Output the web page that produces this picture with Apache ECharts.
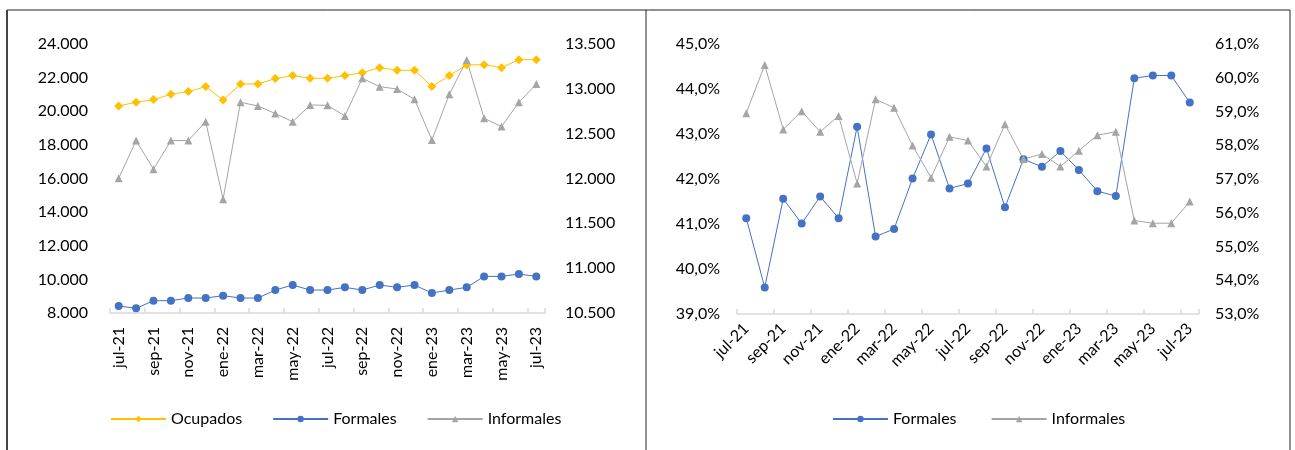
<!DOCTYPE html>
<html>
<head>
<meta charset="utf-8">
<script src="https://cdn.jsdelivr.net/npm/echarts@6/dist/echarts.min.js"></script>
<style>html,body{margin:0;padding:0;background:#fff}#c{width:1295px;height:450px}</style>
</head>
<body>
<div id="c"></div>
<script>
const months = ['jul-21','ago-21','sep-21','oct-21','nov-21','dic-21','ene-22','feb-22','mar-22','abr-22','may-22','jun-22','jul-22','ago-22','sep-22','oct-22','nov-22','dic-22','ene-23','feb-23','mar-23','abr-23','may-23','jun-23','jul-23'];
const ocupados = [20317,20535,20693,21010,21168,21465,20673,21624,21624,21941,22119,21960,21960,22119,22297,22594,22436,22436,21465,22119,22752,22772,22594,23069,23069];
const formales = [8416,8277,8733,8733,8891,8891,9030,8891,8891,9366,9663,9366,9366,9525,9366,9663,9525,9663,9188,9366,9525,10178,10178,10317,10178];
const informales = [12003,12423,12104,12423,12423,12634,11769,12850,12809,12724,12634,12820,12816,12698,13117,13024,12998,12883,12430,12939,13321,12672,12579,12850,13054];
const pctFormales = [41.13,39.59,41.56,41.01,41.61,41.13,43.16,40.72,40.89,42.01,42.99,41.79,41.90,42.68,41.37,42.44,42.27,42.62,42.20,41.73,41.62,44.24,44.30,44.30,43.70];
const pctInformales = [58.95,60.38,58.47,59.01,58.40,58.87,56.87,59.36,59.11,57.99,57.04,58.25,58.14,57.37,58.62,57.59,57.74,57.37,57.84,58.30,58.40,55.77,55.69,55.69,56.33];

const FONT = 'Lato';
const FS = 16;
const cYellow = '#FFC000', cBlue = '#4472C4', cGray = '#A5A5A5';

function thousands(v){ return String(Math.round(v)).replace(/\B(?=(\d{3})+(?!\d))/g,'.'); }
function pct(v){ return v.toFixed(1).replace('.',',') + '%'; }

const chart = echarts.init(document.getElementById('c'), null, {renderer:'canvas'});

function xAxis(gi, rotate, margin){
  return {
    type:'category', gridIndex:gi, data:months, boundaryGap:true,
    axisLine:{lineStyle:{color:'#d9d9d9', width:1.5}},
    axisTick:{show:true, interval:1, inside:true, length:5, lineStyle:{color:'#d9d9d9', width:1.5}},
    axisLabel:{interval:1, rotate:rotate, margin:margin, color:'#000', fontFamily:FONT, fontSize:FS},
    splitLine:{show:false}
  };
}
function yAxis(gi, pos, min, max, interval, fmt, margin){
  return {
    type:'value', gridIndex:gi, position:pos, min:min, max:max, interval:interval,
    axisLine:{show:false}, axisTick:{show:false}, splitLine:{show:false},
    axisLabel:{formatter:fmt, margin:margin, color:'#000', fontFamily:FONT, fontSize:FS}
  };
}
function line(name, data, xi, yi, color, symbol, size){
  return {
    name:name, type:'line', xAxisIndex:xi, yAxisIndex:yi, data:data,
    symbol:symbol, symbolSize:size, showSymbol:true,
    lineStyle:{color:color, width:1}, itemStyle:{color:color},
    emphasis:{disabled:true}, animation:false
  };
}

chart.setOption({
  animation:false,
  backgroundColor:'#fff',
  grid:[
    {left:110, top:44, width:435, height:269},
    {left:737, top:44, width:462, height:270}
  ],
  xAxis:[ xAxis(0, 90, 14), xAxis(1, 45, 12) ],
  yAxis:[
    yAxis(0,'left',8000,24000,2000,thousands,22),
    yAxis(0,'right',10500,13500,500,thousands,20),
    yAxis(1,'left',39,45,1,pct,17),
    yAxis(1,'right',53,61,1,pct,16)
  ],
  legend:[
    {data:['Ocupados','Formales','Informales'], left:105, top:406, itemWidth:55, itemHeight:8, itemGap:30,
     textStyle:{fontFamily:FONT, fontSize:FS, color:'#000'}},
    {data:['Formales ','Informales '], left:827, top:406, itemWidth:55, itemHeight:8, itemGap:30,
     textStyle:{fontFamily:FONT, fontSize:FS, color:'#000'}}
  ],
  series:[
    line('Ocupados', ocupados, 0, 0, cYellow, 'diamond', 9),
    line('Formales', formales, 0, 0, cBlue, 'circle', 8),
    line('Informales', informales, 0, 1, cGray, 'triangle', 8),
    line('Formales ', pctFormales, 1, 2, cBlue, 'circle', 8),
    line('Informales ', pctInformales, 1, 3, cGray, 'triangle', 8)
  ],
  graphic:[
    {type:'line', shape:{x1:7,y1:10,x2:1290,y2:10}, style:{stroke:'#222', lineWidth:1}},
    {type:'line', shape:{x1:7,y1:10,x2:7,y2:450}, style:{stroke:'#444', lineWidth:2}},
    {type:'line', shape:{x1:646,y1:10,x2:646,y2:450}, style:{stroke:'#222', lineWidth:1}},
    {type:'line', shape:{x1:1290,y1:10,x2:1290,y2:450}, style:{stroke:'#222', lineWidth:1}}
  ]
});
</script>
</body>
</html>
